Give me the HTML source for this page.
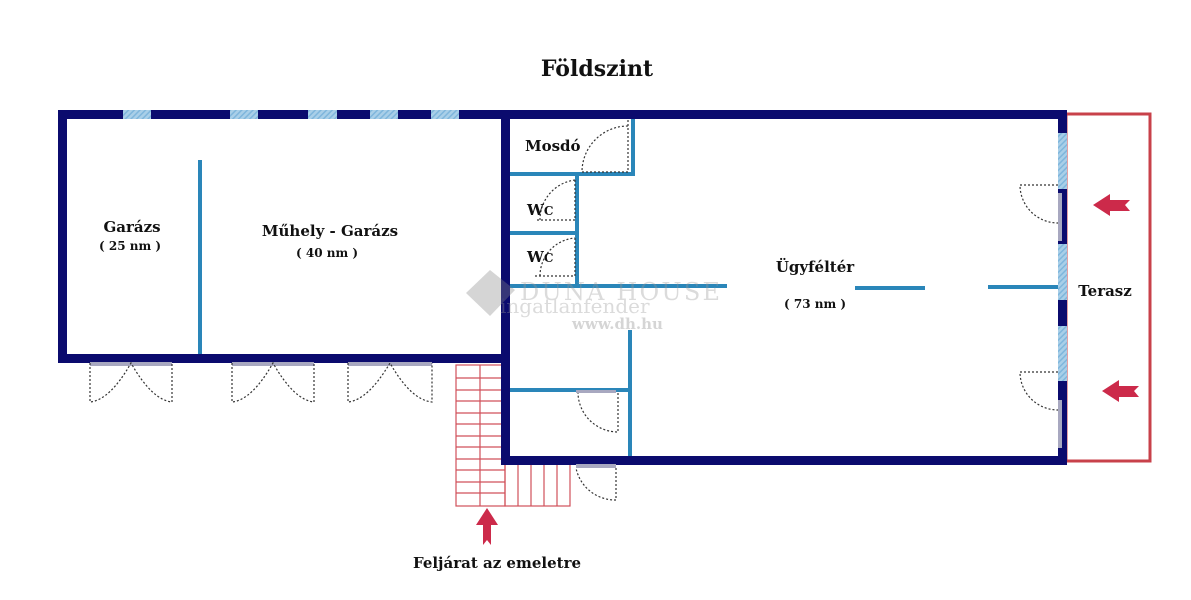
<!DOCTYPE html>
<html><head><style>
body{margin:0;background:#fff;}
svg{display:block}
text{font-family:"DejaVu Serif","Liberation Serif",serif;font-weight:bold;fill:#111}
</style></head><body>
<svg width="1191" height="600" viewBox="0 0 1191 600">
<defs>
<pattern id="h" width="4" height="4" patternUnits="userSpaceOnUse" patternTransform="rotate(45)">
<rect width="4" height="4" fill="#a9cfe8"/><rect width="1.5" height="4" fill="#7fb6dc"/></pattern>
</defs>
<text x="597" y="76" font-size="22" text-anchor="middle">Földszint</text>
<!-- terrace -->
<rect x="1066" y="114" width="84" height="347" fill="none" stroke="#c8414a" stroke-width="3"/>
<!-- stairs -->
<g stroke="#d0505a" stroke-width="1.2" fill="none">
<rect x="456" y="365" width="49" height="141"/>
<rect x="505" y="464" width="65" height="42"/>
<path d="M456 378H505M456 390H505M456 401H505M456 413H505M456 424H505M456 436H505M456 447H505M456 459H505M456 470H505M456 482H505M456 493H505M480 365V506M518 464V506M531 464V506M544 464V506M557 464V506"/>
</g>
<!-- inner blue partitions -->
<g stroke="#2a86b9" stroke-width="4" fill="none">
<path d="M200 160V356"/>
<path d="M509 174H633V116"/>
<path d="M577 176V286M509 233H577"/>
<path d="M509 286H727"/>
<path d="M855 288H925M988 287H1058"/>
<path d="M630 330V458M509 390H630"/>
</g>
<!-- outer walls -->
<g fill="#0b0b6e">
<rect x="58" y="110" width="1008" height="9"/>
<rect x="58" y="110" width="9" height="253"/>
<rect x="58" y="354" width="447" height="9"/>
<rect x="501" y="110" width="9" height="355"/>
<rect x="501" y="456" width="565" height="9"/>
<rect x="1058" y="110" width="9" height="355"/>
</g>
<!-- windows -->
<g fill="url(#h)">
<rect x="123" y="110" width="28" height="9"/>
<rect x="230" y="110" width="28" height="9"/>
<rect x="308" y="110" width="29" height="9"/>
<rect x="370" y="110" width="28" height="9"/>
<rect x="431" y="110" width="28" height="9"/>
<rect x="1058" y="133" width="9" height="56"/>
<rect x="1058" y="244" width="9" height="56"/>
<rect x="1058" y="326" width="9" height="55"/>
</g>
<!-- door leaves -->
<g fill="#a8a8c0">
<rect x="1058" y="193" width="4" height="48"/>
<rect x="1058" y="400" width="4" height="48"/>
<rect x="90" y="362" width="82" height="4"/>
<rect x="232" y="362" width="82" height="4"/>
<rect x="348" y="362" width="84" height="4"/>
<rect x="576" y="464" width="40" height="4"/>
<rect x="576" y="390" width="40" height="3"/>
</g>
<!-- door swings dotted -->
<g stroke="#333" stroke-width="1.2" stroke-dasharray="2,2" fill="none">
<path d="M1058 185H1020A38 38 0 0 0 1058 223"/>
<path d="M1058 372H1020A38 38 0 0 0 1058 410"/>
<path d="M628 120V172H582A46 46 0 0 1 628 126"/>
<path d="M575 180V220H535M540 220A40 40 0 0 1 575 180"/>
<path d="M575 238V276H535M540 276A38 38 0 0 1 575 238"/>
<path d="M618 393V432A40 40 0 0 1 578 393"/>
<path d="M616 468V500A40 40 0 0 1 576 468"/>
<path d="M90 363V402Q110 400 131 363Q152 400 172 402V363"/>
<path d="M232 363V402Q252 400 273 363Q294 400 314 402V363"/>
<path d="M348 363V402Q368 400 390 363Q411 400 432 402V363"/>
</g>
<!-- arrows -->
<g fill="#cc2a4a">
<path d="M1093 205L1110 194V200H1130L1125 205L1130 211H1110V216Z"/>
<path d="M1102 391L1119 380V386H1139L1134 391L1139 397H1119V402Z"/>
<path d="M487 508L476 525H483V545L487 540L491 545V525H498Z"/>
</g>
<!-- watermark -->
<g opacity="0.35">
<path d="M490 270L515 290L490 316L466 293Z" fill="#888"/>
<text x="520" y="300" font-size="24" font-family="Liberation Sans" style="font-weight:normal;fill:#999" textLength="200">DUNA HOUSE</text>
<text x="500" y="313" font-size="20" font-family="Liberation Sans" style="font-weight:normal;fill:#999">ingatlanfender</text>
<text x="572" y="329" font-size="15" font-family="Liberation Sans" style="font-weight:bold;fill:#888">www.dh.hu</text>
</g>
<!-- labels -->
<g font-size="15">
<text x="132" y="232" text-anchor="middle">Garázs</text>
<text x="130" y="250" text-anchor="middle" font-size="12">( 25 nm )</text>
<text x="330" y="236" text-anchor="middle">Műhely - Garázs</text>
<text x="327" y="257" text-anchor="middle" font-size="12">( 40 nm )</text>
<text x="525" y="151">Mosdó</text>
<text x="527" y="215">W<tspan font-size="12">C</tspan></text>
<text x="527" y="262">W<tspan font-size="12">C</tspan></text>
<text x="815" y="272" text-anchor="middle">Ügyféltér</text>
<text x="815" y="308" text-anchor="middle" font-size="12">( 73 nm )</text>
<text x="1105" y="296" text-anchor="middle">Terasz</text>
<text x="497" y="568" text-anchor="middle">Feljárat az emeletre</text>
</g>
</svg>
</body></html>
